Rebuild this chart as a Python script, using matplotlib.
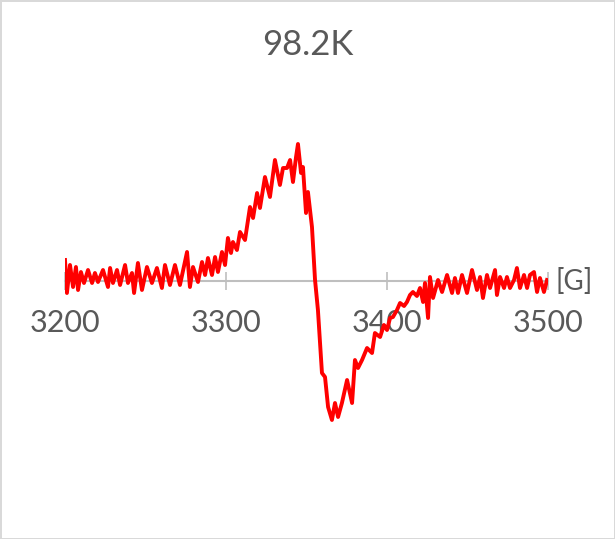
import matplotlib
matplotlib.use("Agg")
import matplotlib.pyplot as plt

field_G = [3200.0, 3201.2, 3203.1, 3205.0, 3206.8, 3208.1, 3209.9, 3211.8, 3214.3, 3216.8,
           3218.6, 3220.5, 3223.6, 3226.7, 3228.0, 3229.8, 3232.3, 3234.2, 3237.3, 3239.1,
           3241.6, 3242.9, 3245.3, 3247.8, 3250.9, 3254.0, 3257.1, 3260.2, 3262.1, 3265.2,
           3268.3, 3271.4, 3275.8, 3277.6, 3279.5, 3282.6, 3285.1, 3287.0, 3288.8, 3291.3,
           3293.2, 3295.0, 3297.5, 3299.4, 3301.2, 3303.1, 3304.3, 3306.8, 3308.7, 3311.8,
           3314.9, 3316.8, 3319.3, 3321.1, 3324.2, 3327.3, 3330.4, 3333.5, 3335.4, 3337.9,
           3339.8, 3341.6, 3343.5, 3344.7, 3346.6, 3347.8, 3349.7, 3350.9, 3353.4, 3355.3,
           3357.1, 3359.6, 3361.5, 3363.4, 3365.8, 3367.7, 3369.6, 3372.0, 3375.2, 3378.3,
           3380.1, 3382.0, 3384.5, 3387.6, 3390.7, 3392.5, 3395.7, 3398.1, 3400.0, 3401.9,
           3403.7, 3406.2, 3408.1, 3410.6, 3412.4, 3414.3, 3416.1, 3418.6, 3420.5, 3422.4,
           3423.6, 3425.5, 3426.7, 3428.6, 3431.7, 3434.2, 3437.3, 3440.4, 3442.2, 3444.1,
           3446.6, 3449.7, 3452.8, 3455.9, 3457.8, 3459.6, 3462.1, 3464.0, 3467.1, 3468.3,
           3470.2, 3472.7, 3474.5, 3476.4, 3478.9, 3480.7, 3482.6, 3485.1, 3487.0, 3488.8,
           3491.3, 3493.2, 3495.0, 3497.5, 3499.4]
signal = [21, -12, 16, -6, 14, -9, 9, -2, 11, -2,
          8, -1, 11, -6, 13, -2, 11, -4, 16, -2,
          8, -12, 18, -9, 14, -2, 13, -7, 16, -4,
          16, -4, 29, -6, 14, -1, 19, 6, 23, 6,
          24, 9, 29, 16, 43, 28, 39, 31, 49, 41,
          74, 63, 88, 73, 104, 84, 121, 96, 113, 113,
          121, 99, 124, 137, 108, 114, 68, 89, 54, 1,
          -29, -92, -96, -126, -139, -122, -136, -122, -99, -122,
          -79, -87, -79, -67, -72, -52, -56, -44, -49, -37,
          -36, -29, -22, -25, -21, -14, -11, -15, -7, -21,
          -2, -37, 4, -17, 1, -11, 6, -12, 3, -12,
          6, -12, 11, -9, 4, -17, 6, -7, 11, -14,
          4, -7, 4, -7, 1, 13, -7, 6, -7, 6,
          9, -11, 3, -11, 1]
x_ticks = [3200, 3300, 3400, 3500]
title = "98.2K"
unit_label = "[G]"

plt.rcParams['font.family'] = ['Lato', 'DejaVu Sans']
fig = plt.figure(figsize=(6.15, 5.39), dpi=100)
fig.patch.set_edgecolor('#d9d9d9')
fig.patch.set_linewidth(2)
ax = fig.add_axes([65/615, 59/539, 483/615, 380/539])
ax.plot(field_G, signal, color='#ff0000', linewidth=2.8, zorder=3)
ax.set_xlim(3200, 3500)
ax.set_ylim(-199, 181)
for s in ['left', 'right', 'top']:
    ax.spines[s].set_visible(False)
ax.spines['bottom'].set_position(('data', 0))
ax.spines['bottom'].set_color('#bfbfbf')
ax.spines['bottom'].set_linewidth(1.5)
ax.set_yticks([])
ax.set_xticks(x_ticks)
ax.set_xticklabels([str(t) for t in x_ticks])
ax.tick_params(axis='x', direction='inout', length=13, width=1.2, color='#bfbfbf',
               labelsize=22, labelcolor='#595959', pad=14)
ax.text(1.015, 0, unit_label, transform=ax.get_yaxis_transform(), ha='left', va='center',
        fontsize=20, color='#595959')
fig.text(0.5, 1 - 45/539, title, ha='center', va='center', fontsize=25, color='#595959')
fig.savefig('out.png', dpi=100)
